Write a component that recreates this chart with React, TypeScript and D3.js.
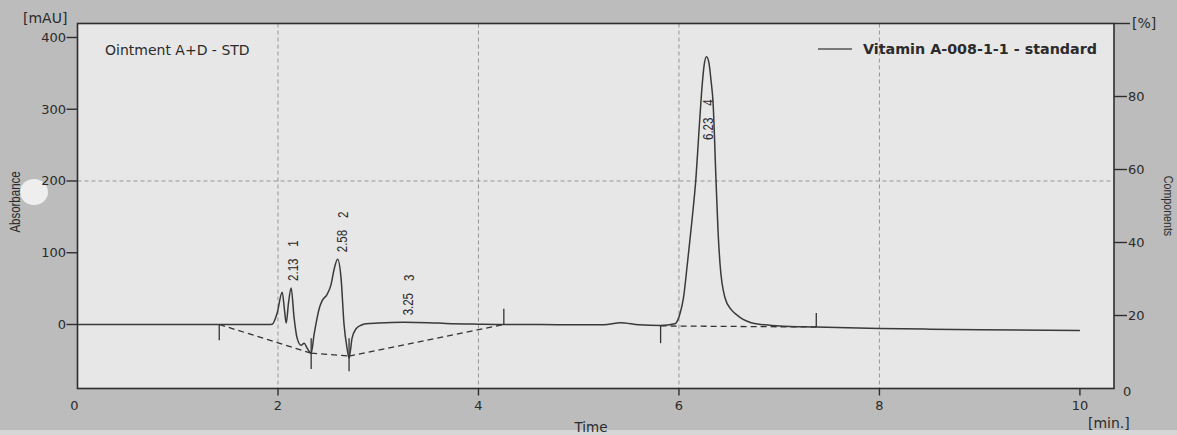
import React from "react";
import * as d3 from "d3";

// ---- data ----
const signalTime = [
  0, 1.0, 1.5, 1.9, 1.942, 1.99, 2.042, 2.065, 2.082, 2.105, 2.131, 2.161, 2.191, 2.231, 2.261,
  2.291, 2.331, 2.361, 2.39, 2.415, 2.44, 2.49, 2.53, 2.56, 2.595, 2.629, 2.659, 2.689, 2.709,
  2.739, 2.779, 2.829, 2.878, 3.0, 3.25, 3.5, 3.675, 4.0, 4.253, 4.6, 5.0, 5.25, 5.418, 5.6,
  5.817, 5.96, 6.01, 6.045, 6.085, 6.13, 6.17, 6.2, 6.225, 6.25, 6.275, 6.3, 6.32, 6.34,
  6.37, 6.39, 6.41, 6.46, 6.52, 6.58, 6.64, 6.72, 6.82, 7.0, 7.37, 8.0, 8.5, 9.0, 10.0,
];
const signalValue = [
  0, 0, 0, 0, 0.5, 15, 45, 20, 2, 30, 51, 9, -19, -29, -26,
  -33, -40, -13, 9, 24, 33, 42, 56, 77, 91, 65, 0, -33, -47,
  -19, -6, -1, 1, 2, 3, 2.5, 1.5, 0.5, 0, 0, -0.5, -0.5, 2.5, -0.5,
  -1.5, 1, 15, 37, 86, 145, 205, 270, 322, 360, 373, 364, 340, 310,
  200, 130, 84, 37, 21, 13, 7, 2.5, 0, -2, -3.5, -5.5, -6.5, -7.3, -8.5,
];

// integration baselines (time, mAU)
const baseStartTime = [1.414, 2.331, 2.709, 5.817];
const baseStartValue = [0, -40, -44, -2];
const baseEndTime = [2.331, 2.709, 4.253, 7.37];
const baseEndValue = [-40, -44, 0, -3.5];

// integration markers (time, from mAU, to mAU)
const markerTime = [1.414, 2.331, 2.709, 4.253, 5.817, 7.37];
const markerFrom = [0, -19, -19, 22, -2, 16];
const markerTo = [-22, -62, -65, 0, -26, -3.5];

// peaks
const peakRT = ["2.13", "2.58", "3.25", "6.23"];
const peakNo = ["1", "2", "3", "4"];
const peakLabelTime = [2.15, 2.64, 3.3, 6.29];
const peakApex = [51, 91, 3, 373];

// axes
const leftTicks = [0, 100, 200, 300, 400];
const rightTicks = [20, 40, 60, 80];
const bottomTicks = [2, 4, 6, 8, 10];
const bottomLabels = [0, 2, 4, 6, 8, 10];
const gridTimes = [2, 4, 6, 8];
const gridValues = [200];

const W = 1177;
const H = 435;
const L = 77.5;
const R = 1114;
const T = 23.5;
const B = 388.5;

const ink = "#2b2b2b";
const sans = "'DejaVu Sans', Verdana, sans-serif";
const narrow = "'Liberation Sans', Arial, sans-serif";

export default function App() {
  const x = d3.scaleLinear().domain([0, 10.34]).range([L, R]);
  const y = d3.scaleLinear().domain([-89.2, 419.5]).range([B, T]);
  const yR = d3.scaleLinear().domain([0, 100]).range([B, T]);

  const pts: [number, number][] = signalTime.map((t, i) => [t, signalValue[i]]);
  const line = d3
    .line<[number, number]>()
    .x((d) => x(d[0]))
    .y((d) => y(d[1]))
    .curve(d3.curveMonotoneX);

  return (
    <svg
      width={W}
      height={H}
      viewBox={`0 0 ${W} ${H}`}
      style={{ position: "absolute", left: 0, top: 0, display: "block" }}
    >
      <rect x={0} y={0} width={W} height={H} fill="#bcbcbc" />
      <rect x={0} y={430} width={W} height={5} fill="#d6d6d6" />
      <rect x={L} y={T} width={R - L} height={B - T} fill="#e7e7e7" />
      <ellipse cx={34} cy={192} rx={14} ry={13} fill="#eeeeee" />

      {/* grid */}
      {gridTimes.map((t) => (
        <line key={"gx" + t} x1={x(t)} x2={x(t)} y1={T} y2={B} stroke="#8c8c8c" strokeWidth={0.9} strokeDasharray="4,3" />
      ))}
      {gridValues.map((v) => (
        <line key={"gy" + v} x1={L} x2={R} y1={y(v)} y2={y(v)} stroke="#8c8c8c" strokeWidth={0.9} strokeDasharray="4,3" />
      ))}

      {/* integration baselines */}
      {baseStartTime.map((t, i) => (
        <line
          key={"b" + i}
          x1={x(t)}
          y1={y(baseStartValue[i])}
          x2={x(baseEndTime[i])}
          y2={y(baseEndValue[i])}
          stroke="#333"
          strokeWidth={1.3}
          strokeDasharray="6,4"
        />
      ))}

      {/* signal */}
      <path d={line(pts) || ""} fill="none" stroke="#3a3a3a" strokeWidth={1.5} strokeLinejoin="round" />

      {/* markers */}
      {markerTime.map((t, i) => (
        <line key={"m" + i} x1={x(t)} x2={x(t)} y1={y(markerFrom[i])} y2={y(markerTo[i])} stroke="#333" strokeWidth={1.3} />
      ))}

      {/* peak labels */}
      {peakRT.map((rt, i) => {
        const yb = Math.max(y(peakApex[i]) - 7, 140);
        return (
          <text
            key={"p" + i}
            transform={`translate(${x(peakLabelTime[i])},${yb}) rotate(-90) scale(0.82,1)`}
            fontFamily={narrow}
            fontSize={14}
            fill={ink}
            dominantBaseline="central"
          >
            {rt}
            <tspan dx={14.5}>{peakNo[i]}</tspan>
          </text>
        );
      })}

      {/* frame */}
      <rect x={L} y={T} width={R - L} height={B - T} fill="none" stroke="#2e2e2e" strokeWidth={1.6} />

      {/* left axis */}
      {leftTicks.map((v) => (
        <g key={"l" + v}>
          <line x1={L - 11} x2={L} y1={y(v)} y2={y(v)} stroke="#2e2e2e" strokeWidth={1.4} />
          <text x={L - 11.5} y={y(v)} textAnchor="end" dominantBaseline="central" fontFamily={sans} fontSize={13} fill={ink}>
            {v}
          </text>
        </g>
      ))}
      <text x={23} y={23} fontFamily={sans} fontSize={14} fill={ink}>
        [mAU]
      </text>
      <text
        transform={`translate(15,202) rotate(-90) scale(0.82,1)`}
        textAnchor="middle"
        dominantBaseline="central"
        fontFamily={narrow}
        fontSize={14}
        fill={ink}
      >
        Absorbance
      </text>

      {/* right axis */}
      {rightTicks.map((v) => (
        <g key={"r" + v}>
          <line x1={R} x2={R + 13} y1={yR(v)} y2={yR(v)} stroke="#2e2e2e" strokeWidth={1.4} />
          <text x={R + 14} y={yR(v)} dominantBaseline="central" fontFamily={sans} fontSize={13} fill={ink}>
            {v}
          </text>
        </g>
      ))}
      <text x={R + 9} y={yR(0) + 3} dominantBaseline="central" fontFamily={sans} fontSize={13} fill={ink}>
        0
      </text>
      <line x1={R} x2={R + 16} y1={yR(100)} y2={yR(100)} stroke="#2e2e2e" strokeWidth={1.4} />
      <text x={1132} y={28} fontFamily={sans} fontSize={14} fill={ink}>
        [%]
      </text>
      <text
        transform={`translate(1168,206) rotate(90) scale(0.82,1)`}
        textAnchor="middle"
        dominantBaseline="central"
        fontFamily={narrow}
        fontSize={13}
        fill={ink}
      >
        Components
      </text>

      {/* bottom axis */}
      {bottomTicks.map((t) => (
        <line key={"bt" + t} x1={x(t)} x2={x(t)} y1={B} y2={B + 7} stroke="#2e2e2e" strokeWidth={1.4} />
      ))}
      {bottomLabels.map((t) => (
        <text key={"bl" + t} x={x(t) - (t === 0 ? 3 : 0)} y={410} textAnchor="middle" fontFamily={sans} fontSize={13} fill={ink}>
          {t}
        </text>
      ))}
      <text x={591} y={432} textAnchor="middle" fontFamily={sans} fontSize={13.5} fill={ink}>
        Time
      </text>
      <text x={1088} y={428} fontFamily={sans} fontSize={14} fill={ink}>
        [min.]
      </text>

      {/* title and legend */}
      <text x={105} y={55} fontFamily={sans} fontSize={14} fill={ink}>
        Ointment A+D - STD
      </text>
      <line x1={818} x2={852} y1={49} y2={49} stroke="#555" strokeWidth={1.6} />
      <text x={863} y={54} fontFamily={sans} fontSize={14.3} fontWeight="bold" fill={ink}>
        Vitamin A-008-1-1 - standard
      </text>
    </svg>
  );
}
